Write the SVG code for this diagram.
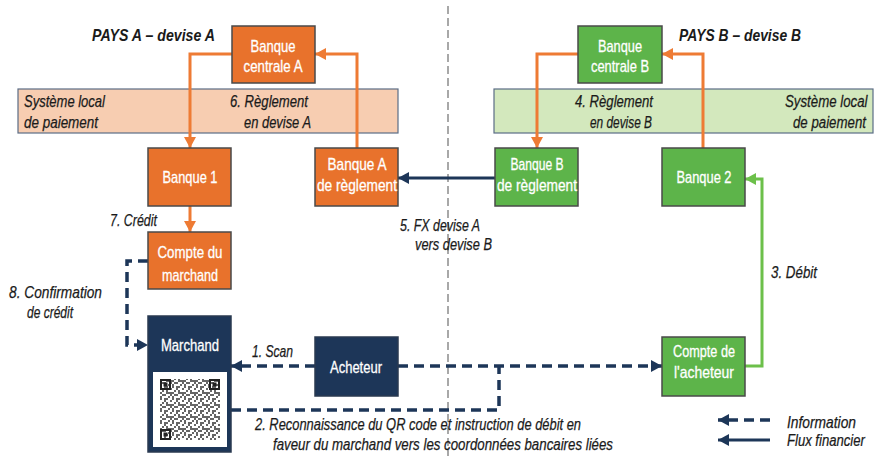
<svg xmlns="http://www.w3.org/2000/svg" width="874" height="456" viewBox="0 0 874 456">
<defs>
<style>
.t{font-family:"Liberation Sans",Arial,sans-serif;}
.bx{font-size:17px;fill:#ffffff;text-anchor:middle;stroke:#ffffff;stroke-width:0.3;}
.lb{font-size:17px;fill:#1a1a1a;font-style:italic;stroke:#1a1a1a;stroke-width:0.25;}
.ti{font-size:17px;fill:#1a1a1a;font-style:italic;font-weight:bold;}
.org{fill:#e8722c;stroke:#4a4a4a;stroke-width:1.5;}
.grn{fill:#5db44a;stroke:#4a4a4a;stroke-width:1.5;}
.nav{fill:#1d3658;stroke:#2a3a50;stroke-width:1.5;}
.ol{fill:none;stroke:#ee7b34;stroke-width:3;}
.gl{fill:none;stroke:#6cc04a;stroke-width:3;}
.nl{fill:none;stroke:#1d3658;stroke-width:3;}
.nd{fill:none;stroke:#1d3658;stroke-width:3.5;stroke-dasharray:10 6;}
</style>
<marker id="ao" markerUnits="userSpaceOnUse" markerWidth="12" markerHeight="12" refX="11" refY="6" orient="auto"><path d="M0,0 L11,6 L0,12 Z" fill="#ee7b34"/></marker>
<marker id="ag" markerUnits="userSpaceOnUse" markerWidth="12" markerHeight="12" refX="11" refY="6" orient="auto"><path d="M0,0 L11,6 L0,12 Z" fill="#6cc04a"/></marker>
<marker id="an" markerUnits="userSpaceOnUse" markerWidth="12" markerHeight="12" refX="11" refY="6" orient="auto"><path d="M0,0 L11,6 L0,12 Z" fill="#1d3658"/></marker>
<pattern id="qr" width="12" height="12" patternUnits="userSpaceOnUse">
<rect width="12" height="12" fill="#ffffff"/>
<g fill="#666">
<rect x="0" y="0" width="2" height="2"/><rect x="4" y="0" width="2" height="4"/><rect x="8" y="2" width="4" height="2"/>
<rect x="2" y="4" width="2" height="2"/><rect x="6" y="6" width="2" height="2"/><rect x="10" y="6" width="2" height="4"/>
<rect x="0" y="8" width="4" height="2"/><rect x="6" y="10" width="4" height="2"/><rect x="2" y="10" width="2" height="2"/>
<rect x="8" y="4" width="2" height="2"/><rect x="4" y="8" width="2" height="2"/>
</g>
</pattern>
</defs>
<rect width="874" height="456" fill="#ffffff"/>

<g id="divider"><line x1="448" y1="6" x2="448" y2="456" stroke="#a8a8a8" stroke-width="2" stroke-dasharray="8 4"/></g>

<g id="band-a"><rect x="18" y="89" width="380" height="44" fill="#f7cdb1" stroke="#5b6d85" stroke-width="1.2"/>
<text class="t lb" x="24" y="107" textLength="81" lengthAdjust="spacingAndGlyphs">Système local</text>
<text class="t lb" x="24" y="128" textLength="74" lengthAdjust="spacingAndGlyphs">de paiement</text></g>
<g id="band-b"><rect x="494" y="89" width="379" height="44" fill="#d3e8bd" stroke="#5b6d85" stroke-width="1.2"/>
<text class="t lb" transform="translate(785,107) scale(0.78,1)" x="0" y="0">Système local</text>
<text class="t lb" transform="translate(793,128) scale(0.78,1)" x="0" y="0">de paiement</text></g>

<g id="titles">
<text class="t ti" x="92" y="41" textLength="123" lengthAdjust="spacingAndGlyphs">PAYS A – devise A</text>
<text class="t ti" x="679" y="41" textLength="122" lengthAdjust="spacingAndGlyphs">PAYS B – devise B</text>
</g>

<g id="connectors">
<path class="ol" d="M232,54 H190 V148" marker-end="url(#ao)"/>
<path class="ol" d="M357,148 V54 H315" marker-end="url(#ao)"/>
<path class="ol" d="M190,206 V232" marker-end="url(#ao)"/>
<path class="ol" d="M578,54 H537 V148" marker-end="url(#ao)"/>
<path class="ol" d="M703,148 V54 H662" marker-end="url(#ao)"/>
<path class="gl" d="M745,366 H762 V179 H745" marker-end="url(#ag)"/>
<path class="nl" d="M495,178 H398" marker-end="url(#an)"/>
<path class="nd" d="M315,366 H231" marker-end="url(#an)"/>
<path class="nd" d="M398,366 H662" marker-end="url(#an)"/>
<path class="nd" d="M231,410 H499 V366"/>
<path class="nd" d="M148,261 H127 V345 H148" marker-end="url(#an)"/>
<text class="t lb" x="230" y="107" textLength="78" lengthAdjust="spacingAndGlyphs">6. Règlement</text>
<text class="t lb" x="244" y="128" textLength="67" lengthAdjust="spacingAndGlyphs">en devise A</text>
<text class="t lb" x="575" y="107" textLength="78" lengthAdjust="spacingAndGlyphs">4. Règlement</text>
<text class="t lb" x="590" y="128" textLength="62" lengthAdjust="spacingAndGlyphs">en devise B</text>
<text class="t lb" x="110" y="226" textLength="47" lengthAdjust="spacingAndGlyphs">7. Crédit</text>
<text class="t lb" x="400" y="231" textLength="80" lengthAdjust="spacingAndGlyphs">5. FX devise A</text>
<text class="t lb" x="415" y="250" textLength="77" lengthAdjust="spacingAndGlyphs">vers devise B</text>
<text class="t lb" x="771" y="278" textLength="46" lengthAdjust="spacingAndGlyphs">3. Débit</text>
<text class="t lb" x="9" y="298" textLength="93" lengthAdjust="spacingAndGlyphs">8. Confirmation</text>
<text class="t lb" x="27" y="318" textLength="46" lengthAdjust="spacingAndGlyphs">de crédit</text>
<text class="t lb" x="252" y="357" textLength="41" lengthAdjust="spacingAndGlyphs">1. Scan</text>
<text class="t lb" x="255" y="430" textLength="326" lengthAdjust="spacingAndGlyphs">2. Reconnaissance du QR code et instruction de débit en</text>
<text class="t lb" x="273" y="450" textLength="340" lengthAdjust="spacingAndGlyphs">faveur du marchand vers les coordonnées bancaires liées</text>
</g>

<g id="banque-centrale-a"><rect class="org" x="232" y="26" width="83" height="57"/>
<text class="t bx" x="273" y="52" textLength="45" lengthAdjust="spacingAndGlyphs">Banque</text>
<text class="t bx" x="273" y="72" textLength="59" lengthAdjust="spacingAndGlyphs">centrale A</text></g>
<g id="banque-1"><rect class="org" x="148" y="148" width="83" height="58"/>
<text class="t bx" x="190" y="183" textLength="55" lengthAdjust="spacingAndGlyphs">Banque 1</text></g>
<g id="banque-a-reglement"><rect class="org" x="315" y="148" width="83" height="58"/>
<text class="t bx" x="357" y="170" textLength="59" lengthAdjust="spacingAndGlyphs">Banque A</text>
<text class="t bx" x="357" y="191" textLength="80" lengthAdjust="spacingAndGlyphs">de règlement</text></g>
<g id="compte-marchand"><rect class="org" x="148" y="232" width="83" height="57"/>
<text class="t bx" x="190" y="258" textLength="65" lengthAdjust="spacingAndGlyphs">Compte du</text>
<text class="t bx" x="190" y="281" textLength="56" lengthAdjust="spacingAndGlyphs">marchand</text></g>

<g id="banque-centrale-b"><rect class="grn" x="578" y="26" width="84" height="57"/>
<text class="t bx" x="620" y="52" textLength="44" lengthAdjust="spacingAndGlyphs">Banque</text>
<text class="t bx" x="620" y="72" textLength="58" lengthAdjust="spacingAndGlyphs">centrale B</text></g>
<g id="banque-b-reglement"><rect class="grn" x="495" y="148" width="83" height="58"/>
<text class="t bx" x="537" y="170" textLength="53" lengthAdjust="spacingAndGlyphs">Banque B</text>
<text class="t bx" x="537" y="191" textLength="80" lengthAdjust="spacingAndGlyphs">de règlement</text></g>
<g id="banque-2"><rect class="grn" x="662" y="148" width="83" height="58"/>
<text class="t bx" x="704" y="183" textLength="55" lengthAdjust="spacingAndGlyphs">Banque 2</text></g>
<g id="compte-acheteur"><rect class="grn" x="662" y="337" width="83" height="59"/>
<text class="t bx" x="704" y="357" textLength="62" lengthAdjust="spacingAndGlyphs">Compte de</text>
<text class="t bx" x="704" y="378" textLength="60" lengthAdjust="spacingAndGlyphs">l'acheteur</text></g>

<g id="acheteur"><rect class="nav" x="315" y="337" width="83" height="59"/>
<text class="t bx" x="356" y="373" textLength="52" lengthAdjust="spacingAndGlyphs">Acheteur</text></g>
<g id="marchand"><rect class="nav" x="148" y="316" width="83" height="136"/>
<text class="t bx" x="190" y="351" textLength="58" lengthAdjust="spacingAndGlyphs">Marchand</text>
<rect x="153" y="372" width="74" height="75" fill="#ffffff"/>
<rect x="160" y="379" width="60" height="61" fill="url(#qr)"/>
<g fill="none" stroke="#222" stroke-width="2">
<rect x="161" y="380" width="9" height="9"/><rect x="210" y="380" width="9" height="9"/><rect x="161" y="430" width="9" height="9"/>
</g>
<g fill="#222"><rect x="163.5" y="382.5" width="4" height="4"/><rect x="212.5" y="382.5" width="4" height="4"/><rect x="163.5" y="432.5" width="4" height="4"/></g>
</g>

<g id="legend">
<path class="nd" d="M770,420 H718" stroke-dasharray="8 5" marker-end="url(#an)"/>
<path class="nl" d="M770,440 H718" marker-end="url(#an)"/>
<text class="t lb" x="787" y="428" textLength="69" lengthAdjust="spacingAndGlyphs">Information</text>
<text class="t lb" transform="translate(787,446) scale(0.77,1)" x="0" y="0">Flux financier</text>
</g>
</svg>
